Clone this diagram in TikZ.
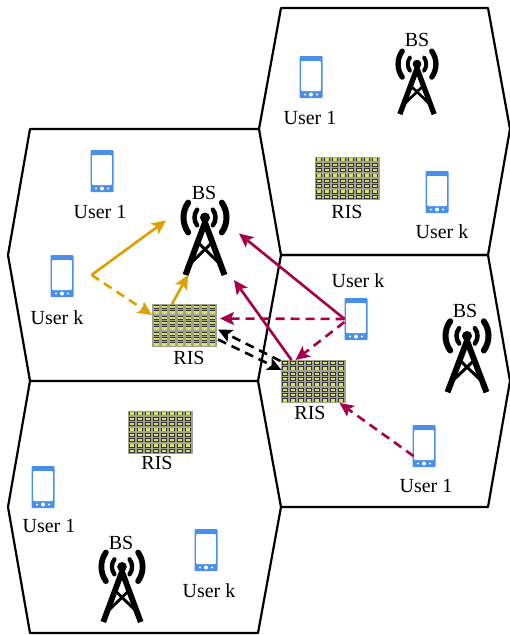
\documentclass[tikz,border=0pt]{standalone}
\usepackage{fontspec}
\setmainfont{Liberation Serif}
\usetikzlibrary{arrows.meta,calc}
\definecolor{phoneblue}{HTML}{4A90E8}
\definecolor{orangeline}{HTML}{DDA000}
\definecolor{crimsonline}{HTML}{A80048}
\definecolor{risgrey}{HTML}{A0A098}
\definecolor{risgreen}{HTML}{D4E65C}
\definecolor{riscell}{HTML}{333333}
\tikzset{
  lbl/.style={font=\fontsize{20pt}{21pt}\selectfont,inner sep=0pt,outer sep=0pt},
  phone/.style={rectangle,rounded corners=1pt,fill=phoneblue,minimum width=23pt,minimum height=42pt,inner sep=0pt,outer sep=0pt,
    path picture={
      \fill[white] ($(path picture bounding box.north west)+(1.7,5)$) rectangle ($(path picture bounding box.south east)+(-1.7,-7)$);
      \fill[white] ($(path picture bounding box.south)+(0,-3.5)$) circle (2pt);
      \fill[white] ($(path picture bounding box.south)+(-6,-3.5)$) circle (1.2pt);
      \fill[white] ($(path picture bounding box.south)+(6,-3.5)$) circle (1.2pt);
    }},
  ris/.style={rectangle,fill=risgrey,minimum width=65pt,minimum height=43pt,inner sep=0pt,outer sep=0pt,
    path picture={
      \foreach \i in {0,...,7}{\foreach \j in {0,...,7}{
        \fill[riscell] ($(path picture bounding box.north west)+(1.6+8*\i,1+5.35*\j)$) rectangle +(5.8,3.9);
        \fill[risgreen] ($(path picture bounding box.north west)+(2.4+8*\i,1.8+5.35*\j)$) rectangle +(4.2,2.4);
      }}
    }},
  towerbox/.style={rectangle,inner sep=0pt,outer sep=0pt},
  hexline/.style={draw=black,line width=2.2pt,line join=round},
  link/.style={line width=2.6pt,-{Stealth[length=14pt,width=13pt,inset=3pt]}},
  dlink/.style={link,dash pattern=on 9pt off 6pt},
  orangelink/.style={color=orangeline},
  crimsonlink/.style={color=crimsonline},
  blacklink/.style={color=black}
}
\newcommand{\towerat}[5]{%
  \node[towerbox,minimum width=#4*50pt,minimum height=#5*75pt] (#1) at (#2,#3) {};
  \begin{scope}[shift={(#1.center)},xscale=#4,yscale=#5,shift={(0,-20)}]
    \fill[black] (0,0) circle (5);
    \draw[line width=#4*6pt,line join=miter] (-19.5,57.5) -- (0,5) -- (19.5,57.5);
    \draw[line width=#4*3pt] (-7,25) -- (13.5,45) (7,25) -- (-13.5,45);
    \draw[line width=#4*4.5pt,line cap=round] ($(2.5,0)+(143:13)$) arc[start angle=143,end angle=217,radius=13];
    \draw[line width=#4*4.5pt,line cap=round] ($(-2.5,0)+(-37:13)$) arc[start angle=-37,end angle=37,radius=13];
    \draw[line width=#4*6pt,line cap=round] ($(4.5,0)+(145:26)$) arc[start angle=145,end angle=215,radius=26];
    \draw[line width=#4*6pt,line cap=round] ($(-4.5,0)+(-35:26)$) arc[start angle=-35,end angle=35,radius=26];
  \end{scope}}
\begin{document}
\begin{tikzpicture}[x=1pt,y=-1pt]
\useasboundingbox (0,0) rectangle (510,635);
% cells
\draw[hexline] (8,255) -- (30,129) -- (259,129) -- (281,255) -- (258,381) -- (30,381) -- cycle;
\draw[hexline] (259,129) -- (281,8) -- (488,8) -- (510,129) -- (488,255) -- (281,255);
\draw[hexline] (281,255) -- (488,255) -- (510,381) -- (488,507) -- (281,507) -- (258,381);
\draw[hexline] (30,381) -- (8,507) -- (30,633) -- (258,633) -- (281,507);
% phones
\node[phone] (pA1) at (102,171) {};
\node[phone] (pAk) at (62,276) {};
\node[phone] (pB1) at (311,77) {};
\node[phone] (pBk) at (437,192) {};
\node[phone] (pCk) at (356,319) {};
\node[phone] (pC1) at (424,446) {};
\node[phone] (pD1) at (43,487) {};
\node[phone] (pDk) at (206,550) {};
% RIS
\node[ris] (rA) at (184.5,325.5) {};
\node[ris] (rB) at (347,178) {};
\node[ris] (rC) at (313,381.5) {};
\node[ris] (rD) at (160,432) {};
% towers
\towerat{tA}{205}{237.5}{1}{1}
\towerat{tB}{417}{81.5}{0.88}{0.87}
\towerat{tC}{467}{355.5}{1}{0.98}
\towerat{tD}{122}{586}{0.96}{0.96}
% labels
\node[lbl] (lA1) at (100,212) {User 1};
\node[lbl] (lAk) at (57,318) {User k};
\node[lbl] (bA) at (204,193) {BS};
\node[lbl] (rlA) at (189,358) {RIS};
\node[lbl] (lB1) at (310,118) {User 1};
\node[lbl] (lBk) at (442,232) {User k};
\node[lbl] (bB) at (417,40) {BS};
\node[lbl] (rlB) at (347,212) {RIS};
\node[lbl] (lCk) at (358,281) {User k};
\node[lbl] (lC1) at (426,486) {User 1};
\node[lbl] (bC) at (465,311) {BS};
\node[lbl] (rlC) at (310,413) {RIS};
\node[lbl] (lD1) at (49,526) {User 1};
\node[lbl] (lDk) at (209,591) {User k};
\node[lbl] (bD) at (121,543) {BS};
\node[lbl] (rlD) at (157,463) {RIS};
% connectors
\coordinate (jA) at ($(pAk.east)+(18,-1)$);
\draw[link,orangelink] (jA) -- ($(tA.west)+(-14,-17)$);
\draw[dlink,orangelink] (jA) -- ($(rA.north west)+(0,11)$);
\draw[link,orangelink] ($(rA.north west)+(20,0)$) -- ($(tA.south west)+(8,0)$);
\draw[link,crimsonlink] (pCk.west) -- ($(tA.east)+(9,-4)$);
\draw[dlink,crimsonlink] (pCk.west) -- ($(rA.east)+(3,-7)$);
\draw[dlink,crimsonlink] ($(pCk.west)+(0,3)$) -- ($(rC.north west)+(15,0)$);
\draw[link,crimsonlink] ($(rC.north west)+(11,0)$) -- ($(tA.south east)+(4,5)$);
\draw[dlink,blacklink] ($(rC.north west)+(0,1)$) -- ($(rA.east)+(1,4)$);
\draw[dlink,blacklink] ($(rA.east)+(1,14)$) -- ($(rC.north west)+(1,10)$);
\draw[dlink,crimsonlink] ($(pC1.west)+(1,10)$) -- ($(rC.south east)+(-6,0)$);
\end{tikzpicture}
\end{document}
